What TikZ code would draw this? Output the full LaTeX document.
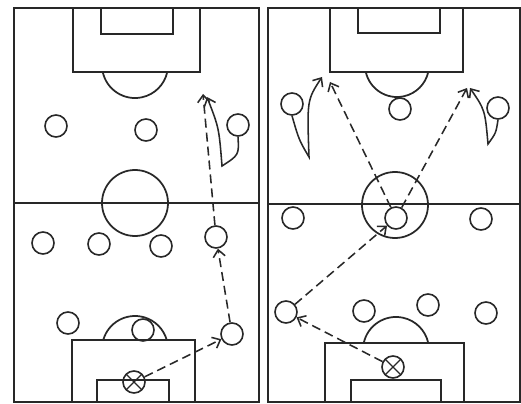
\documentclass[tikz,border=0pt]{standalone}
\usepackage{tikz}
\usetikzlibrary{arrows.meta}
\definecolor{ink}{RGB}{40,40,40}

\begin{document}
\begin{tikzpicture}[
    x=0.5mm, y=-0.5mm,
    pitch/.style={draw=ink, line width=2.5pt},
    player/.style={circle, draw=ink, line width=2.3pt, minimum size=11mm, inner sep=0pt},
    keeper/.style={player, path picture={
        \draw[ink, line width=2pt] (path picture bounding box.north west) -- (path picture bounding box.south east)
          (path picture bounding box.north east) -- (path picture bounding box.south west);}},
    pass/.style={draw=ink, line width=2.2pt, dash pattern=on 4.5mm off 2.5mm, -{Straight Barb[length=3.5mm, width=6mm]}},
    run/.style={draw=ink, line width=2.2pt, -{Straight Barb[length=3.5mm, width=6mm]}}
  ]
    \useasboundingbox (0,0) rectangle (521,404);

    % left pitch
    \draw[pitch] (14,8) rectangle (259,402);
    \draw[pitch] (14,203) -- (259,203);
    \draw[pitch] (135,203) circle [radius=16.5mm];
    \draw[pitch] (73,8) rectangle (200,72);
    \draw[pitch] (101,8) rectangle (173,34);
    \draw[pitch] (102.75,72) arc [start angle=192.2, end angle=347.8, radius=16.5mm];
    \draw[pitch] (72,340) rectangle (195,402);
    \draw[pitch] (97,380) rectangle (169,402);
    \draw[pitch] (103.25,340) arc [start angle=164.2, end angle=15.8, radius=16.5mm];

    % right pitch
    \draw[pitch] (268,8) rectangle (520,402);
    \draw[pitch] (268,204) -- (520,204);
    \draw[pitch] (395,205) circle [radius=16.5mm];
    \draw[pitch] (330,8) rectangle (463,72);
    \draw[pitch] (358,8) rectangle (440,33);
    \draw[pitch] (365.8,72) arc [start angle=192.6, end angle=347.4, radius=16mm];
    \draw[pitch] (325,343) rectangle (464,402);
    \draw[pitch] (351,380) rectangle (441,402);
    \draw[pitch] (363.75,343) arc [start angle=167.8, end angle=12.2, radius=16.5mm];

    % left players
    \node[keeper] (lgk) at (134,382) {};
    \node[player] (ld1) at (68,323) {};
    \node[player] (ld2) at (143,330) {};
    \node[player] (ld3) at (232,334) {};
    \node[player] (lm1) at (43,243) {};
    \node[player] (lm2) at (99,244) {};
    \node[player] (lm3) at (161,246) {};
    \node[player] (lm4) at (216,237) {};
    \node[player] (lf1) at (56,126) {};
    \node[player] (lf2) at (146,130) {};
    \node[player] (lf3) at (238,125) {};

    % right players
    \node[keeper] (rgk) at (393,367) {};
    \node[player] (rd1) at (286,312) {};
    \node[player] (rd2) at (364,311) {};
    \node[player] (rd3) at (428,305) {};
    \node[player] (rd4) at (486,313) {};
    \node[player] (rm1) at (293,218) {};
    \node[player] (rm2) at (396,218) {};
    \node[player] (rm3) at (481,219) {};
    \node[player] (rf1) at (292,104) {};
    \node[player] (rf2) at (400,109) {};
    \node[player] (rf3) at (498,108) {};

    \coordinate (ltgt) at (203,94);
    \coordinate (lturn) at (222,166);
    \coordinate (lrun) at (207,97);
    \coordinate (rtgtl) at (330,82);
    \coordinate (rtgtr) at (467,88);
    \coordinate (rturnl) at (309,157);
    \coordinate (rrunl) at (322,77);
    \coordinate (rturnr) at (488,144);
    \coordinate (rrunr) at (470,88);

    % passes and runs
    \draw[pass] (lgk) -- (ld3);
    \draw[pass] (ld3) -- (lm4);
    \draw[pass] (lm4) -- (ltgt);
    \draw[run] (lf3.south) .. controls (239,155) .. (lturn) .. controls (219,128) .. (lrun);

    \draw[pass] (rgk) -- (rd1);
    \draw[pass] (rd1) -- (rm2);
    \draw[pass] (rm2) -- (rtgtl);
    \draw[pass] (rm2) -- (rtgtr);
    \draw[run] (rf1.south) .. controls (299,140) .. (rturnl) .. controls (307,100) .. (rrunl);
    \draw[run] (rf3.south) .. controls (496,133) .. (rturnr) .. controls (485,110) .. (rrunr);
  \end{tikzpicture}
\end{document}
